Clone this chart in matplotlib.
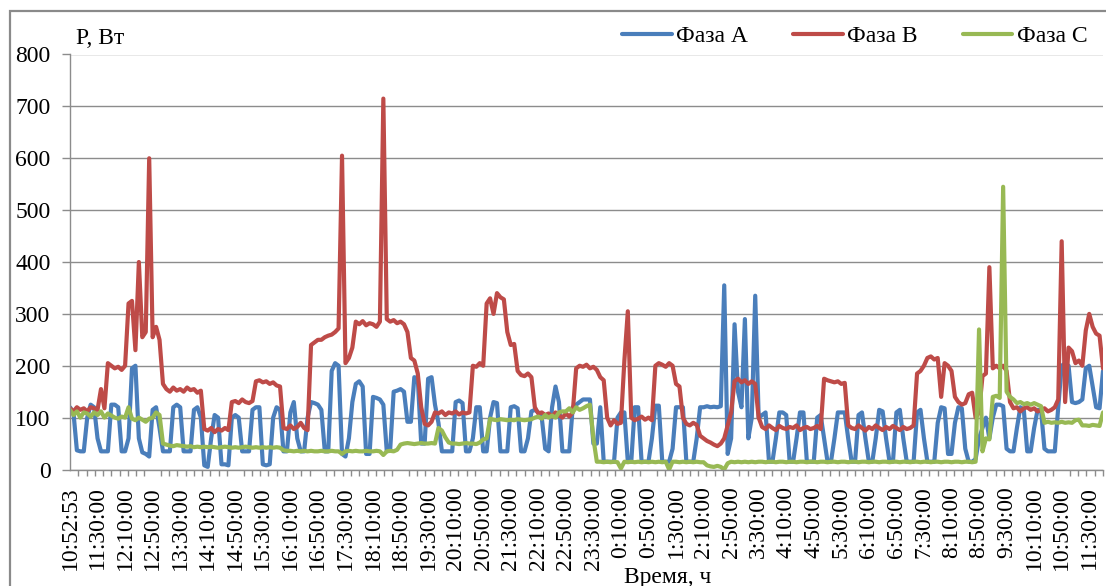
import numpy as np
import matplotlib.pyplot as plt
from matplotlib.patches import Rectangle

OUTPUT_FILE = "out.png"

KROK_MIN = 5          # odstęp między próbkami [min]
ETYKIETA_CO_MIN = 40  # etykieta osi czasu co 40 min

czas_etykiety = [
    "10:52:53", "11:30:00", "12:10:00", "12:50:00", "13:30:00", "14:10:00",
    "14:50:00", "15:30:00", "16:10:00", "16:50:00", "17:30:00", "18:10:00",
    "18:50:00", "19:30:00", "20:10:00", "20:50:00", "21:30:00", "22:10:00",
    "22:50:00", "23:30:00", "0:10:00", "0:50:00", "1:30:00", "2:10:00",
    "2:50:00", "3:30:00", "4:10:00", "4:50:00", "5:30:00", "6:10:00",
    "6:50:00", "7:30:00", "8:10:00", "8:50:00", "9:30:00", "10:10:00",
    "10:50:00", "11:30:00",
]

# moc czynna [W], próbka co 5 min (wiersz = 40 min)
faza_a = [
    120, 110, 37, 35, 35, 100, 125, 120,
    60, 35, 35, 35, 125, 125, 120, 35,
    35, 60, 195, 200, 60, 33, 30, 25,
    115, 120, 80, 35, 35, 35, 120, 125,
    120, 35, 35, 35, 115, 120, 100, 8,
    5, 60, 105, 100, 10, 10, 8, 100,
    105, 100, 35, 35, 35, 115, 120, 120,
    10, 8, 10, 100, 120, 115, 35, 35,
    110, 130, 60, 35, 35, 100, 130, 128,
    125, 115, 35, 35, 190, 205, 200, 30,
    25, 60, 130, 165, 170, 160, 30, 30,
    140, 138, 135, 125, 35, 40, 150, 152,
    155, 150, 92, 92, 178, 175, 50, 50,
    175, 178, 125, 90, 35, 35, 35, 35,
    130, 133, 128, 35, 35, 60, 120, 120,
    35, 35, 100, 130, 128, 35, 35, 35,
    120, 122, 118, 35, 35, 60, 112, 115,
    110, 100, 40, 35, 120, 160, 130, 35,
    35, 35, 120, 125, 130, 135, 135, 135,
    50, 50, 120, 15, 15, 15, 15, 100,
    110, 110, 15, 15, 120, 120, 15, 15,
    15, 60, 123, 123, 15, 15, 15, 40,
    120, 120, 120, 15, 15, 15, 60, 120,
    120, 122, 120, 121, 120, 122, 355, 30,
    60, 280, 150, 120, 290, 60, 100, 335,
    100, 105, 110, 15, 15, 60, 110, 110,
    105, 15, 15, 60, 110, 110, 15, 15,
    15, 100, 105, 60, 15, 15, 60, 110,
    110, 110, 60, 15, 15, 105, 110, 60,
    15, 15, 60, 115, 112, 60, 15, 15,
    110, 115, 60, 15, 15, 15, 110, 115,
    60, 15, 15, 15, 90, 120, 118, 30,
    30, 90, 120, 118, 40, 15, 15, 20,
    60, 80, 100, 60, 100, 125, 125, 122,
    40, 35, 35, 80, 120, 115, 35, 35,
    80, 115, 115, 40, 35, 35, 35, 120,
    200, 205, 200, 130, 128, 130, 135, 195,
    200, 160, 120, 118, 190,
]

faza_b = [
    118, 112, 120, 115, 118, 112, 120, 118,
    115, 155, 118, 205, 200, 195, 198, 192,
    200, 320, 325, 230, 400, 255, 265, 600,
    255, 275, 250, 165, 155, 150, 158, 152,
    155, 150, 158, 153, 155, 148, 152, 78,
    75, 80, 72, 78, 75, 80, 76, 130,
    132, 128, 135, 130, 128, 132, 170, 172,
    168, 170, 165, 168, 162, 160, 80, 78,
    85, 78, 82, 90, 80, 76, 240, 245,
    250, 250, 255, 258, 260, 265, 272, 605,
    205, 215, 235, 285, 280, 286, 278, 282,
    280, 275, 285, 715, 290, 285, 288, 282,
    285, 280, 265, 215, 210, 185, 120, 88,
    85, 92, 110, 108, 112, 105, 110, 108,
    112, 106, 110, 108, 110, 200, 198, 205,
    200, 320, 330, 300, 340, 332, 328, 265,
    240, 242, 190, 182, 180, 185, 178, 120,
    108, 110, 105, 108, 102, 110, 104, 100,
    108, 102, 110, 195, 200, 198, 202, 195,
    198, 192, 178, 172, 100, 85, 95, 88,
    90, 210, 305, 100, 95, 98, 102, 96,
    100, 95, 200, 205, 202, 198, 205, 200,
    165, 160, 100, 88, 85, 90, 86, 65,
    60, 55, 52, 48, 45, 50, 60, 85,
    110, 170, 175, 168, 172, 165, 170, 165,
    100, 82, 78, 85, 80, 76, 84, 80,
    78, 82, 80, 85, 76, 80, 82, 78,
    80, 84, 78, 175, 172, 170, 168, 170,
    165, 167, 85, 80, 78, 85, 80, 75,
    82, 78, 85, 80, 76, 82, 78, 84,
    80, 76, 82, 78, 80, 85, 185, 190,
    200, 215, 218, 212, 215, 140, 205, 200,
    190, 140, 130, 125, 128, 145, 148, 100,
    110, 180, 185, 390, 195, 200, 195, 200,
    190, 130, 118, 120, 112, 118, 120, 115,
    118, 112, 115, 118, 112, 115, 120, 135,
    440, 130, 235, 228, 205, 210, 200, 268,
    300, 275, 262, 258, 195,
]

faza_c = [
    115, 105, 112, 100, 110, 108, 102, 110,
    105, 112, 100, 108, 104, 100, 98, 102,
    100, 120, 98, 95, 100, 96, 92, 98,
    100, 110, 105, 50, 48, 46, 45, 47,
    46, 45, 44, 45, 43, 44, 43, 44,
    43, 44, 43, 42, 43, 44, 43, 42,
    43, 42, 43, 44, 43, 42, 43, 42,
    43, 42, 43, 42, 43, 42, 37, 36,
    36, 35, 36, 35, 36, 35, 36, 35,
    35, 36, 35, 35, 36, 35, 35, 30,
    35, 36, 35, 36, 35, 35, 36, 35,
    35, 36, 35, 28, 35, 36, 35, 38,
    48, 50, 51, 50, 49, 50, 51, 50,
    50, 51, 50, 80, 75, 62, 52, 50,
    50, 49, 50, 51, 50, 50, 49, 52,
    58, 60, 98, 96, 95, 97, 96, 95,
    96, 95, 97, 96, 95, 96, 97, 100,
    102, 98, 105, 100, 104, 100, 110, 112,
    112, 118, 110, 120, 115, 118, 122, 125,
    60, 15, 15, 14, 15, 14, 15, 14,
    2, 15, 14, 15, 14, 15, 14, 15,
    14, 15, 14, 15, 14, 15, 0, 15,
    15, 14, 15, 14, 15, 14, 15, 14,
    14, 8, 6, 5, 7, 5, 0, 12,
    15, 14, 15, 14, 15, 14, 15, 14,
    15, 15, 14, 15, 15, 14, 15, 15,
    14, 15, 15, 14, 15, 15, 14, 15,
    15, 14, 15, 15, 14, 15, 15, 14,
    15, 15, 14, 15, 15, 14, 15, 15,
    14, 15, 15, 14, 15, 15, 14, 15,
    15, 14, 15, 15, 14, 15, 15, 14,
    15, 15, 14, 15, 15, 14, 15, 15,
    14, 15, 15, 14, 15, 15, 14, 15,
    270, 35, 60, 58, 140, 142, 138, 545,
    150, 140, 135, 128, 130, 126, 128, 125,
    128, 125, 122, 90, 92, 90, 91, 90,
    92, 90, 91, 90, 95, 96, 85, 85,
    84, 86, 85, 84, 110,
]

KOLOR_A = "#4A7EBB"
KOLOR_B = "#BE4B48"
KOLOR_C = "#98B954"
SZARY = "#8c8c8c"

plt.rcParams["font.family"] = ["Liberation Serif", "DejaVu Serif"]

W, H = 1106, 586
fig = plt.figure(figsize=(W / 100, H / 100), dpi=100)

# ramka wykresu (jak w Excelu)
fig.patches.append(Rectangle((10 / W, -0.1), 1.2, 1.1 - 11 / H,
                             transform=fig.transFigure, fill=False,
                             edgecolor="#8a8a8a", linewidth=1.6))

ax = fig.add_axes([70 / W, 1 - 469.5 / H, (1103 - 70) / W, 415 / H])

t = np.arange(len(faza_a)) * KROK_MIN

styl = dict(linewidth=3.0, solid_joinstyle="round", solid_capstyle="round")
line1, = ax.plot(t, faza_a, color=KOLOR_A, label="Фаза А", **styl)
line2, = ax.plot(t, faza_b, color=KOLOR_B, label="Фаза В", **styl)
line3, = ax.plot(t, faza_c, color=KOLOR_C, label="Фаза С", **styl)

ax.set_xlim(0, 1500)
ax.set_ylim(0, 800)

ax.set_yticks(range(0, 801, 100))
ax.yaxis.grid(True, color=SZARY, linewidth=1.0)
ax.set_axisbelow(True)

ax.set_xticks(np.arange(len(czas_etykiety)) * ETYKIETA_CO_MIN)
ax.set_xticklabels(czas_etykiety, rotation=90, fontsize=17)
ax.set_xticks(np.arange(0, 1501, 12), minor=True)
ax.tick_params(axis="x", which="major", length=0, pad=12)
ax.tick_params(axis="x", which="minor", length=4.5, width=1, color=SZARY)
ax.tick_params(axis="y", length=6, width=1, color=SZARY, pad=8, labelsize=17)

for side in ["top", "right"]:
    ax.spines[side].set_visible(False)
for side in ["left", "bottom"]:
    ax.spines[side].set_color(SZARY)
    ax.spines[side].set_linewidth(1.0)

# --- legenda u góry ---
lines = [line1, line2, line3]
fig.legend(lines, [l.get_label() for l in lines], loc="center left",
           bbox_to_anchor=(622 / W, 1 - 36 / H), ncol=3, frameon=False,
           fontsize=17, handlelength=2.1, handletextpad=0.2,
           columnspacing=1.9, borderpad=0, borderaxespad=0)

fig.text(76 / W, 1 - 38 / H, "P, Вт", fontsize=17, va="center", ha="left")
fig.text(668 / W, 1 - 567 / H, "Время, ч", fontsize=17, va="top", ha="center")

fig.savefig(OUTPUT_FILE, dpi=100)
